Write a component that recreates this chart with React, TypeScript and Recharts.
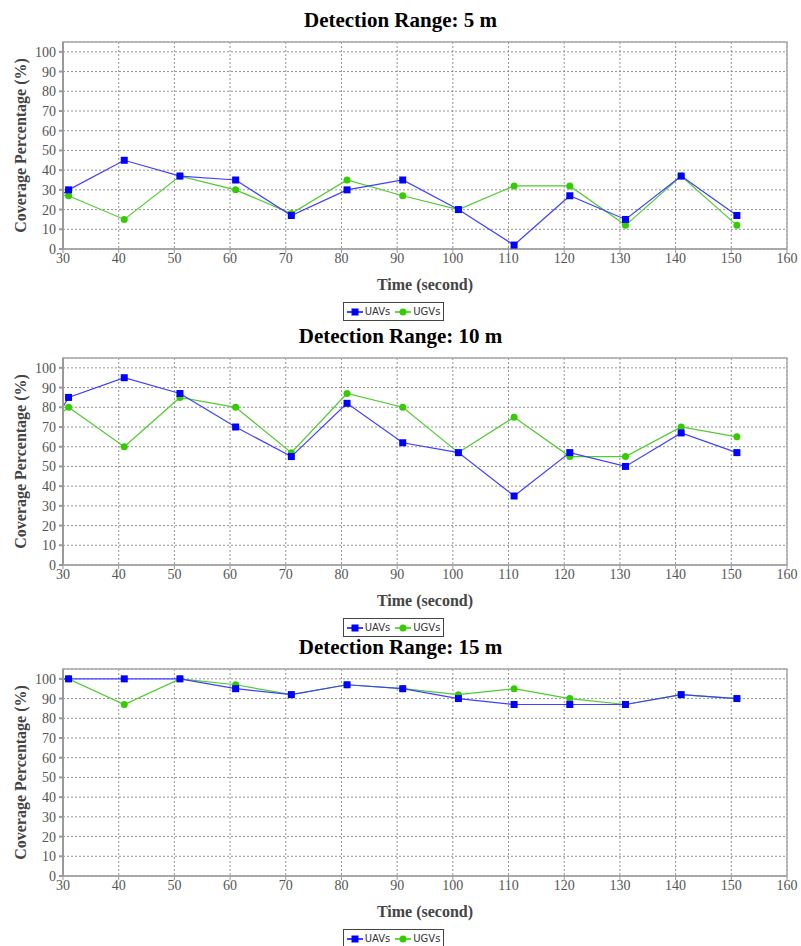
import { LineChart, Line, XAxis, YAxis, CartesianGrid, Legend, ReferenceArea } from 'recharts';

// sample times; the 21 s sample sits left of the axis and is clipped off
const times = [21, 31, 41, 51, 61, 71, 81, 91, 101, 111, 121, 131, 141, 151];
const xTicks = [30, 40, 50, 60, 70, 80, 90, 100, 110, 120, 130, 140, 150, 160];
const yTicks = [0, 10, 20, 30, 40, 50, 60, 70, 80, 90, 100];

const uav5 = [10, 30, 45, 37, 35, 17, 30, 35, 20, 2, 27, 15, 37, 17];
const ugv5 = [30, 27, 15, 37, 30, 18, 35, 27, 20, 32, 32, 12, 37, 12];
const uav10 = [37, 85, 95, 87, 70, 55, 82, 62, 57, 35, 57, 50, 67, 57];
const ugv10 = [57, 80, 60, 85, 80, 57, 87, 80, 57, 75, 55, 55, 70, 65];
const uav15 = [100, 100, 100, 100, 95, 92, 97, 95, 90, 87, 87, 87, 92, 90];
const ugv15 = [96, 100, 87, 100, 97, 92, 97, 95, 92, 95, 90, 87, 92, 90];

const ranges = ['5 m', '10 m', '15 m'];
const uavSets = [uav5, uav10, uav15];
const ugvSets = [ugv5, ugv10, ugv15];
const panelTops = [0, 316, 627];

const serif = '"Liberation Serif", "Times New Roman", serif';
const BLUE = '#0000ff';
const GREEN = '#33cc00';

function SquareDot(props: any) {
  const { cx, cy, index } = props;
  if (cx == null || cy == null) return <g key={index} />;
  return <rect key={index} x={cx - 3.5} y={cy - 3.5} width={7} height={7} fill={BLUE} />;
}

function CircleDot(props: any) {
  const { cx, cy, index } = props;
  if (cx == null || cy == null) return <g key={index} />;
  return <circle key={index} cx={cx} cy={cy} r={3.5} fill={GREEN} />;
}

function LegendBox() {
  return (
    <div style={{ textAlign: 'center', lineHeight: 0 }}>
      <div
        style={{
          display: 'inline-flex',
          alignItems: 'center',
          border: '1px solid #444',
          padding: '1px 3px',
          height: 15,
          fontFamily: '"DejaVu Sans", sans-serif',
          fontSize: 10,
          color: '#333',
          lineHeight: '15px',
          background: '#fff',
        }}
      >
        <svg width={16} height={8}>
          <line x1={0} y1={4} x2={16} y2={4} stroke={BLUE} strokeWidth={1.5} />
          <rect x={4.5} y={0.5} width={7} height={7} fill={BLUE} />
        </svg>
        <span style={{ marginLeft: 2, marginRight: 5 }}>UAVs</span>
        <svg width={16} height={8}>
          <line x1={0} y1={4} x2={16} y2={4} stroke={GREEN} strokeWidth={1.5} />
          <circle cx={8} cy={4} r={3.5} fill={GREEN} />
        </svg>
        <span style={{ marginLeft: 2 }}>UGVs</span>
      </div>
    </div>
  );
}

function Panel({ idx }: { idx: number }) {
  const data = times.map((t, i) => ({ t, uav: uavSets[idx][i], ugv: ugvSets[idx][i] }));
  return (
    <div style={{ position: 'absolute', left: 0, top: panelTops[idx], width: 801, height: 320 }}>
      <div
        style={{
          position: 'absolute',
          top: 7,
          width: 801,
          textAlign: 'center',
          fontFamily: serif,
          fontWeight: 'bold',
          fontSize: 21,
          lineHeight: '26px',
          color: '#000',
        }}
      >
        Detection Range: {ranges[idx]}
      </div>
      <LineChart width={801} height={320} data={data} margin={{ top: 42, right: 14, bottom: 0, left: 0 }}>
        <CartesianGrid stroke="#777" strokeDasharray="2 2" strokeWidth={0.8} />
        <ReferenceArea x1={30} x2={160} y1={0} y2={105} fill="none" stroke="#aaa" strokeWidth={1.5} />
        <XAxis
          dataKey="t"
          type="number"
          domain={[30, 160]}
          ticks={xTicks}
          interval={0}
          allowDataOverflow
          height={53}
          tickSize={4}
          tickMargin={0}
          stroke="#999"
          tick={{ fontFamily: serif, fontSize: 14, fill: '#555' }}
          label={{
            value: 'Time (second)',
            position: 'insideBottom',
            offset: 12,
            style: { fontFamily: serif, fontWeight: 'bold', fontSize: 16, fill: '#444' },
          }}
        />
        <YAxis
          type="number"
          domain={[0, 105]}
          ticks={yTicks}
          interval={0}
          width={63}
          tickSize={4}
          tickMargin={3}
          stroke="#999"
          strokeWidth={2}
          tick={{ fontFamily: serif, fontSize: 14, fill: '#555' }}
          label={{
            value: 'Coverage Percentage (%)',
            angle: -90,
            position: 'center',
            dx: -11,
            style: { fontFamily: serif, fontWeight: 'bold', fontSize: 16, fill: '#444', textAnchor: 'middle' },
          }}
        />
        <Legend verticalAlign="bottom" height={18} content={() => <LegendBox />} />
        <Line
          dataKey="ugv"
          name="UGVs"
          stroke="#4fcc2e"
          strokeWidth={1.2}
          dot={CircleDot}
          activeDot={false}
          isAnimationActive={false}
        />
        <Line
          dataKey="uav"
          name="UAVs"
          stroke="#3f3fff"
          strokeWidth={1.2}
          dot={SquareDot}
          activeDot={false}
          isAnimationActive={false}
        />
      </LineChart>
    </div>
  );
}

export default function App() {
  return (
    <div style={{ position: 'absolute', left: 0, top: 0, width: 801, height: 946, background: '#fff' }}>
      <Panel idx={0} />
      <Panel idx={1} />
      <Panel idx={2} />
    </div>
  );
}
